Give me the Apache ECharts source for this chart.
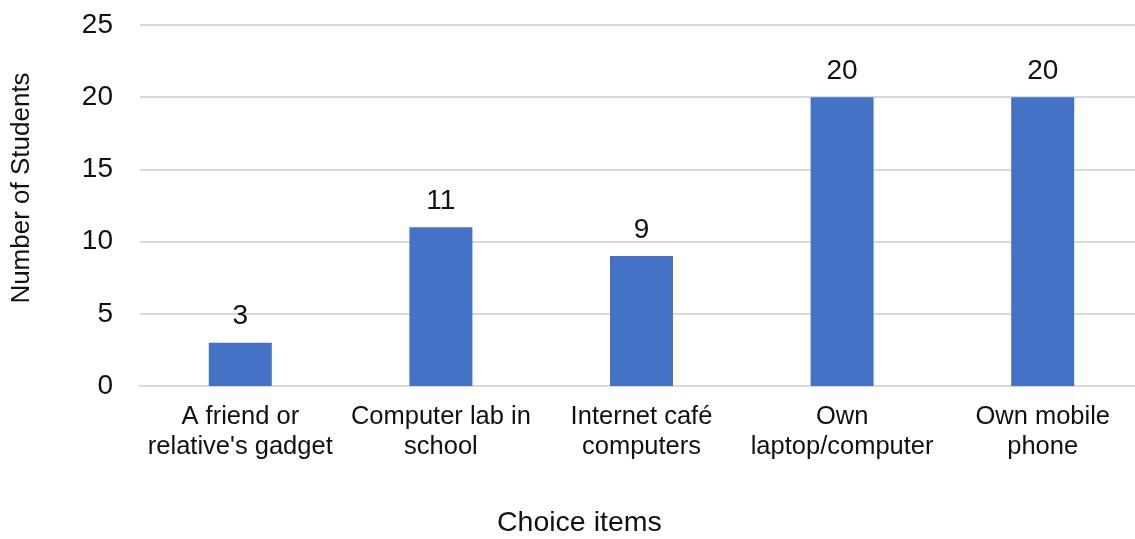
<!DOCTYPE html>
<html>
<head>
<meta charset="utf-8">
<script src="https://cdn.jsdelivr.net/npm/echarts@6/dist/echarts.min.js"></script>
<style>html,body{margin:0;padding:0;background:#fff;overflow:hidden;width:1135px;height:539px;}#c{width:1143px;height:539px;}</style>
</head>
<body>
<div id="c"></div>
<script>
const categories = ["A friend or\nrelative's gadget", "Computer lab in\nschool", "Internet café\ncomputers", "Own\nlaptop/computer", "Own mobile\nphone"];
const students = [3, 11, 9, 20, 20];
const yTicks = [0, 5, 10, 15, 20, 25];
const xTitle = "Choice items";
const yTitle = "Number of Students";

const FONT = "Liberation Sans, Arial, sans-serif";
const chart = echarts.init(document.getElementById('c'), null, {renderer: 'canvas'});
chart.setOption({
  backgroundColor: '#fff',
  animation: false,
  grid: {left: 140, top: 25, bottom: 153, right: 0, containLabel: false},
  xAxis: {
    type: 'category',
    data: categories,
    axisLine: {show: true, lineStyle: {color: '#D9D9D9', width: 2}},
    axisTick: {show: false},
    axisLabel: {color: '#111', fontSize: 25.5, fontFamily: FONT, lineHeight: 30, margin: 16, interval: 0}
  },
  yAxis: {
    type: 'value',
    min: yTicks[0],
    max: yTicks[yTicks.length - 1],
    interval: yTicks[1] - yTicks[0],
    axisLine: {show: false},
    axisTick: {show: false},
    splitLine: {lineStyle: {color: '#D9D9D9', width: 2}},
    axisLabel: {color: '#111', fontSize: 28, fontFamily: FONT, margin: 27}
  },
  series: [{
    type: 'bar',
    data: students,
    barWidth: '31.4%',
    itemStyle: {color: '#4472C4'},
    label: {show: true, position: 'top', distance: 12, color: '#111', fontSize: 28, fontFamily: FONT}
  }],
  graphic: [
    {type: 'text', left: 497, top: 509, style: {text: xTitle, fontSize: 28.5, fontFamily: FONT, fill: '#111'}},
    {type: 'text', x: 22, y: 188, rotation: Math.PI / 2, style: {text: yTitle, fontSize: 26, fontFamily: FONT, fill: '#111', align: 'center', verticalAlign: 'middle'}}
  ]
});
</script>
</body>
</html>
